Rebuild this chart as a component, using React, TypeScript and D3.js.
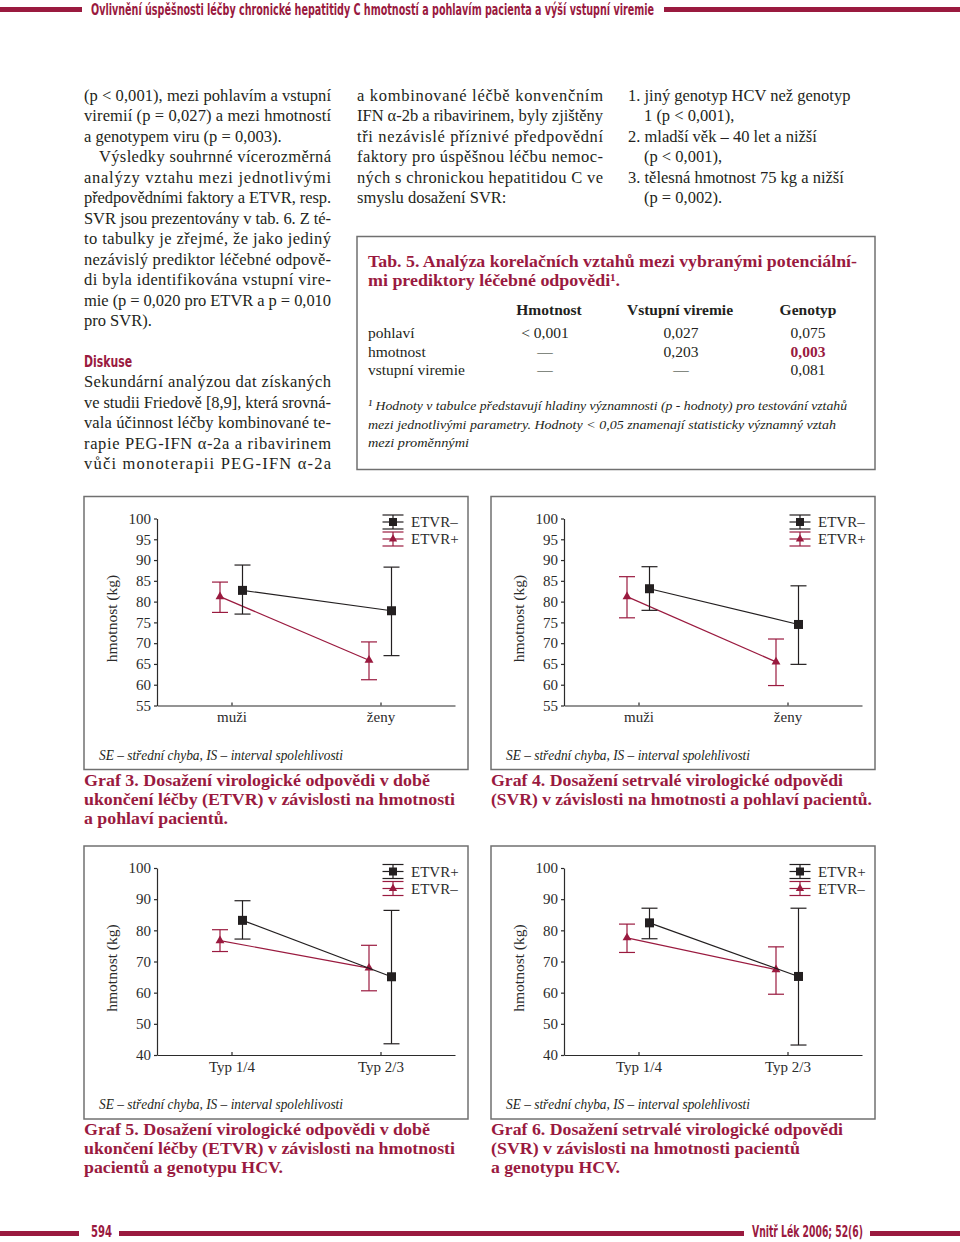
import { useEffect, useRef } from 'react';
import * as d3 from 'd3';

const RED = '#9a1a3f';
const INK = '#231f20';
const SERIF = '"Liberation Serif", "Times New Roman", serif';
const COND = '"Liberation Sans Narrow", "DejaVu Sans Condensed", "Liberation Sans", sans-serif';

// categories and tick labels
const SEX = ['muži', 'ženy'];
const GENOTYPE = ['Typ 1/4', 'Typ 2/3'];
const TICKS_SEX = [55, 60, 65, 70, 75, 80, 85, 90, 95, 100];
const TICKS_GENO = [40, 50, 60, 70, 80, 90, 100];

// Graf 3 – ETVR vs. weight and sex (mean, lower, upper)
const G3_NEG_MEAN = [82.7, 77.8];
const G3_NEG_LO = [77.0, 67.0];
const G3_NEG_HI = [88.8, 88.3];
const G3_POS_MEAN = [81.2, 65.9];
const G3_POS_LO = [77.4, 61.2];
const G3_POS_HI = [84.7, 70.3];

// Graf 4 – SVR vs. weight and sex
const G4_NEG_MEAN = [83.1, 74.5];
const G4_NEG_LO = [77.9, 64.9];
const G4_NEG_HI = [88.4, 83.8];
const G4_POS_MEAN = [81.2, 65.5];
const G4_POS_LO = [76.1, 59.8];
const G4_POS_HI = [86.0, 71.0];

// Graf 5 – ETVR vs. weight and genotype
const G5_POS_MEAN = [83.2, 65.1];
const G5_POS_LO = [77.2, 43.6];
const G5_POS_HI = [89.5, 86.4];
const G5_NEG_MEAN = [76.7, 67.9];
const G5_NEG_LO = [73.2, 60.6];
const G5_NEG_HI = [80.2, 75.2];

// Graf 6 – SVR vs. weight and genotype
const G6_POS_MEAN = [82.4, 65.2];
const G6_POS_LO = [77.3, 43.2];
const G6_POS_HI = [87.1, 87.1];
const G6_NEG_MEAN = [77.6, 67.4];
const G6_NEG_LO = [72.9, 59.5];
const G6_NEG_HI = [82.0, 74.7];

// Tab. 5
const TABLE_COLS = ['Hmotnost', 'Vstupní viremie', 'Genotyp'];
const TABLE_ROWS = ['pohlaví', 'hmotnost', 'vstupní viremie'];
const TABLE_P = [
  ['< 0,001', '0,027', '0,075'],
  ['—', '0,203', '0,003'],
  ['—', '—', '0,081'],
];

// running text: [text, indent, justified]
const COL1: [string, number, boolean][] = [
  ['(p < 0,001), mezi pohlavím a vstupní', 0, true],
  ['viremií (p = 0,027) a mezi hmotností', 0, true],
  ['a genotypem viru (p = 0,003).', 0, false],
  ['Výsledky souhrnné vícerozměrná', 15, true],
  ['analýzy vztahu mezi jednotlivými', 0, true],
  ['předpovědními faktory a ETVR, resp.', 0, true],
  ['SVR jsou prezentovány v tab. 6. Z té-', 0, true],
  ['to tabulky je zřejmé, že jako jediný', 0, true],
  ['nezávislý prediktor léčebné odpově-', 0, true],
  ['di byla identifikována vstupní vire-', 0, true],
  ['mie (p = 0,020 pro ETVR a p = 0,010', 0, true],
  ['pro SVR).', 0, false],
];
const COL1B: [string, number, boolean][] = [
  ['Sekundární analýzou dat získaných', 0, true],
  ['ve studii Friedově [8,9], která srovná-', 0, true],
  ['vala účinnost léčby kombinované te-', 0, true],
  ['rapie PEG-IFN α-2a a ribavirinem', 0, true],
  ['vůči monoterapii PEG-IFN α-2a', 0, true],
];
const COL2: [string, number, boolean][] = [
  ['a kombinované léčbě konvenčním', 0, true],
  ['IFN α-2b a ribavirinem, byly zjištěny', 0, true],
  ['tři nezávislé příznivé předpovědní', 0, true],
  ['faktory pro úspěšnou léčbu nemoc-', 0, true],
  ['ných s chronickou hepatitidou C ve', 0, true],
  ['smyslu dosažení SVR:', 0, false],
];
const COL3: [string, number][] = [
  ['1. jiný genotyp HCV než genotyp', 0],
  ['1 (p < 0,001),', 16],
  ['2. mladší věk – 40 let a nižší', 0],
  ['(p < 0,001),', 16],
  ['3. tělesná hmotnost 75 kg a nižší', 0],
  ['(p = 0,002).', 16],
];

const LINE = 20.45;
const BASE = 101;
const BODY_SIZE = 16.5;

type Series = { name: string; mean: number[]; lo: number[]; hi: number[] };
type PanelProps = {
  x: number; y: number; cats: string[]; ticks: number[];
  dark: Series; red: Series; caption: [string, number][];
};

function Panel({ x, y, cats, ticks, dark, red, caption }: PanelProps) {
  const ref = useRef<SVGGElement>(null);

  useEffect(() => {
    if (!ref.current) return;
    const g = d3.select(ref.current);
    g.selectAll('*').remove();

    const left = 73, right = 371, top = 22, bottom = 209;
    const xs = d3.scalePoint<string>().domain(cats).range([left, right]).padding(0.5);
    const ys = d3.scaleLinear()
      .domain([ticks[0], ticks[ticks.length - 1]])
      .range([bottom, top]);

    const yAxis = g.append('g').attr('transform', `translate(${left},0)`)
      .call(d3.axisLeft(ys).tickValues(ticks).tickSize(3).tickSizeOuter(0).tickPadding(3));
    const xAxis = g.append('g').attr('transform', `translate(0,${bottom})`)
      .call(d3.axisBottom(xs).tickSize(-3).tickSizeOuter(0).tickPadding(6));
    [yAxis, xAxis].forEach(a => {
      a.attr('font-family', SERIF).attr('font-size', 15).attr('color', '#2b2b2b');
      a.selectAll('path, line').attr('stroke-width', 1.2);
    });

    g.append('text')
      .attr('transform', 'translate(27,122) rotate(-90)')
      .attr('text-anchor', 'middle')
      .attr('dominant-baseline', 'central')
      .attr('font-family', SERIF)
      .attr('font-size', 15.5)
      .attr('fill', '#2b2b2b')
      .text('hmotnost (kg)');

    const draw = (s: Series, color: string, dx: number, sym: d3.SymbolType, size: number) => {
      const pts = cats.map((c, i) => ({ x: (xs(c) as number) + dx, m: s.mean[i], lo: s.lo[i], hi: s.hi[i] }));
      g.append('path')
        .datum(pts)
        .attr('d', d3.line<any>().x(d => d.x).y(d => ys(d.m)))
        .attr('fill', 'none')
        .attr('stroke', color)
        .attr('stroke-width', 1.2);
      const eb = g.append('g').attr('stroke', color).attr('stroke-width', 1.2);
      eb.selectAll('line.v').data(pts).join('line').attr('class', 'v')
        .attr('x1', d => d.x).attr('x2', d => d.x)
        .attr('y1', d => ys(d.lo)).attr('y2', d => ys(d.hi));
      eb.selectAll('line.cap')
        .data(pts.flatMap(d => [{ x: d.x, v: d.lo }, { x: d.x, v: d.hi }]))
        .join('line').attr('class', 'cap')
        .attr('x1', d => d.x - 8).attr('x2', d => d.x + 8)
        .attr('y1', d => ys(d.v)).attr('y2', d => ys(d.v));
      g.append('g').selectAll('path').data(pts).join('path')
        .attr('transform', d => `translate(${d.x},${ys(d.m)})`)
        .attr('d', d3.symbol(sym, size)())
        .attr('fill', color);
    };

    draw(red, RED, -11.5, d3.symbolTriangle, 34);
    draw(dark, INK, 11, d3.symbolSquare, 81);

    const legend = (cy: number, s: Series, color: string, sym: d3.SymbolType, size: number) => {
      const cx = 309;
      const lg = g.append('g').attr('stroke', color).attr('stroke-width', 1.2);
      [-7, 0, 7].forEach(dy => lg.append('line')
        .attr('x1', cx - 10.5).attr('x2', cx + 10.5)
        .attr('y1', cy + dy).attr('y2', cy + dy));
      lg.append('line').attr('x1', cx).attr('x2', cx).attr('y1', cy - 7).attr('y2', cy + 7);
      g.append('path')
        .attr('transform', `translate(${cx},${cy})`)
        .attr('d', d3.symbol(sym, size)())
        .attr('fill', color);
      g.append('text')
        .attr('x', 327).attr('y', cy)
        .attr('dominant-baseline', 'central')
        .attr('font-family', SERIF)
        .attr('font-size', 15)
        .attr('fill', '#2b2b2b')
        .text(s.name);
    };
    legend(25.5, dark, INK, d3.symbolSquare, 64);
    legend(42.5, red, RED, d3.symbolTriangle, 30);
  }, [cats, ticks, dark, red]);

  return (
    <g transform={`translate(${x},${y})`}>
      <rect x={0} y={0} width={384} height={273} fill="none" stroke="#707070" strokeWidth={1.5} />
      <g ref={ref} />
      <text x={15} y={263} fontFamily={SERIF} fontStyle="italic" fontSize={14} fill={INK}
        textLength={244} lengthAdjust="spacingAndGlyphs">
        SE – střední chyba, IS – interval spolehlivosti
      </text>
      {caption.map(([t, w], i) => (
        <text key={i} x={0} y={289 + i * 19} fontFamily={SERIF} fontWeight="bold" fontSize={16.5}
          fill={RED} textLength={w} lengthAdjust="spacingAndGlyphs">{t}</text>
      ))}
    </g>
  );
}

function Body({ lines, x, w, start }: { lines: [string, number, boolean][]; x: number; w: number; start: number }) {
  return (
    <g fontFamily={SERIF} fontSize={BODY_SIZE} fill={INK}>
      {lines.map(([t, ind, j], i) => (
        <text key={i} x={x + ind} y={BASE + (start + i) * LINE}
          {...(j ? { textLength: w - ind, lengthAdjust: 'spacing' } : {})}>{t}</text>
      ))}
    </g>
  );
}

export default function App() {
  return (
    <svg width={960} height={1242} style={{ position: 'absolute', left: 0, top: 0, background: '#fff' }}>
      {/* header */}
      <rect x={0} y={7} width={82} height={5} fill={RED} />
      <text x={91} y={15} fontFamily={COND} fontWeight="bold" fontSize={16} fill={RED}
        textLength={563} lengthAdjust="spacingAndGlyphs">
        Ovlivnění úspěšnosti léčby chronické hepatitidy C hmotností a pohlavím pacienta a výší vstupní viremie
      </text>
      <rect x={664} y={7} width={296} height={5} fill={RED} />

      {/* text columns */}
      <Body lines={COL1} x={84} w={247} start={0} />
      <text x={84} y={BASE + 13 * LINE} fontFamily={COND} fontWeight="bold" fontSize={16} fill={RED}
        textLength={48} lengthAdjust="spacingAndGlyphs">Diskuse</text>
      <Body lines={COL1B} x={84} w={247} start={14} />
      <Body lines={COL2} x={357} w={246} start={0} />
      <g fontFamily={SERIF} fontSize={BODY_SIZE} fill={INK}>
        {COL3.map(([t, ind], i) => (
          <text key={i} x={628 + ind} y={BASE + i * LINE}>{t}</text>
        ))}
      </g>

      {/* table */}
      <rect x={357} y={236.5} width={518} height={233} fill="none" stroke="#707070" strokeWidth={1.5} />
      <g fontFamily={SERIF} fontWeight="bold" fontSize={17} fill={RED}>
        <text x={368} y={267} textLength={489} lengthAdjust="spacingAndGlyphs">
          Tab. 5. Analýza korelačních vztahů mezi vybranými potenciální-
        </text>
        <text x={368} y={286} textLength={252} lengthAdjust="spacingAndGlyphs">
          mi prediktory léčebné odpovědi¹.
        </text>
      </g>
      <g fontFamily={SERIF} fontSize={15.5} fill={INK}>
        {TABLE_COLS.map((c, j) => (
          <text key={c} x={[549, 680, 808][j]} y={315} textAnchor="middle" fontWeight="bold">{c}</text>
        ))}
        {TABLE_ROWS.map((r, i) => (
          <g key={r}>
            <text x={368} y={338 + i * 18.5}>{r}</text>
            {TABLE_P[i].map((v, j) => {
              const hi = i === 1 && j === 2;
              return (
                <text key={j} x={[545, 681, 808][j]} y={338 + i * 18.5} textAnchor="middle"
                  fontWeight={hi ? 'bold' : 'normal'} fill={hi ? RED : INK}>{v}</text>
              );
            })}
          </g>
        ))}
      </g>
      <g fontFamily={SERIF} fontStyle="italic" fontSize={13.5} fill={INK}>
        <text x={368} y={410} textLength={479} lengthAdjust="spacingAndGlyphs">
          ¹ Hodnoty v tabulce představují hladiny významnosti (p - hodnoty) pro testování vztahů
        </text>
        <text x={368} y={429} textLength={468} lengthAdjust="spacingAndGlyphs">
          mezi jednotlivými parametry. Hodnoty &lt; 0,05 znamenají statisticky významný vztah
        </text>
        <text x={368} y={447} textLength={101} lengthAdjust="spacingAndGlyphs">mezi proměnnými</text>
      </g>

      {/* charts */}
      <Panel x={84} y={496.5} cats={SEX} ticks={TICKS_SEX}
        dark={{ name: 'ETVR–', mean: G3_NEG_MEAN, lo: G3_NEG_LO, hi: G3_NEG_HI }}
        red={{ name: 'ETVR+', mean: G3_POS_MEAN, lo: G3_POS_LO, hi: G3_POS_HI }}
        caption={[
          ['Graf 3. Dosažení virologické odpovědi v době', 346],
          ['ukončení léčby (ETVR) v závislosti na hmotnosti', 371],
          ['a pohlaví pacientů.', 144],
        ]} />
      <Panel x={491} y={496.5} cats={SEX} ticks={TICKS_SEX}
        dark={{ name: 'ETVR–', mean: G4_NEG_MEAN, lo: G4_NEG_LO, hi: G4_NEG_HI }}
        red={{ name: 'ETVR+', mean: G4_POS_MEAN, lo: G4_POS_LO, hi: G4_POS_HI }}
        caption={[
          ['Graf 4. Dosažení setrvalé virologické odpovědi', 352],
          ['(SVR) v závislosti na hmotnosti a pohlaví pacientů.', 381],
        ]} />
      <Panel x={84} y={846} cats={GENOTYPE} ticks={TICKS_GENO}
        dark={{ name: 'ETVR+', mean: G5_POS_MEAN, lo: G5_POS_LO, hi: G5_POS_HI }}
        red={{ name: 'ETVR–', mean: G5_NEG_MEAN, lo: G5_NEG_LO, hi: G5_NEG_HI }}
        caption={[
          ['Graf 5. Dosažení virologické odpovědi v době', 346],
          ['ukončení léčby (ETVR) v závislosti na hmotnosti', 371],
          ['pacientů a genotypu HCV.', 199],
        ]} />
      <Panel x={491} y={846} cats={GENOTYPE} ticks={TICKS_GENO}
        dark={{ name: 'ETVR+', mean: G6_POS_MEAN, lo: G6_POS_LO, hi: G6_POS_HI }}
        red={{ name: 'ETVR–', mean: G6_NEG_MEAN, lo: G6_NEG_LO, hi: G6_NEG_HI }}
        caption={[
          ['Graf 6. Dosažení setrvalé virologické odpovědi', 352],
          ['(SVR) v závislosti na hmotnosti pacientů', 309],
          ['a genotypu HCV.', 129],
        ]} />

      {/* footer */}
      <rect x={0} y={1231} width={79} height={5} fill={RED} />
      <text x={91} y={1237} fontFamily={COND} fontWeight="bold" fontSize={16} fill={RED}
        textLength={21} lengthAdjust="spacingAndGlyphs">594</text>
      <rect x={119} y={1231} width={625} height={5} fill={RED} />
      <text x={752} y={1237} fontFamily={COND} fontWeight="bold" fontSize={16} fill={RED}
        textLength={111} lengthAdjust="spacingAndGlyphs">Vnitř Lék 2006; 52(6)</text>
      <rect x={870} y={1231} width={90} height={5} fill={RED} />
    </svg>
  );
}
